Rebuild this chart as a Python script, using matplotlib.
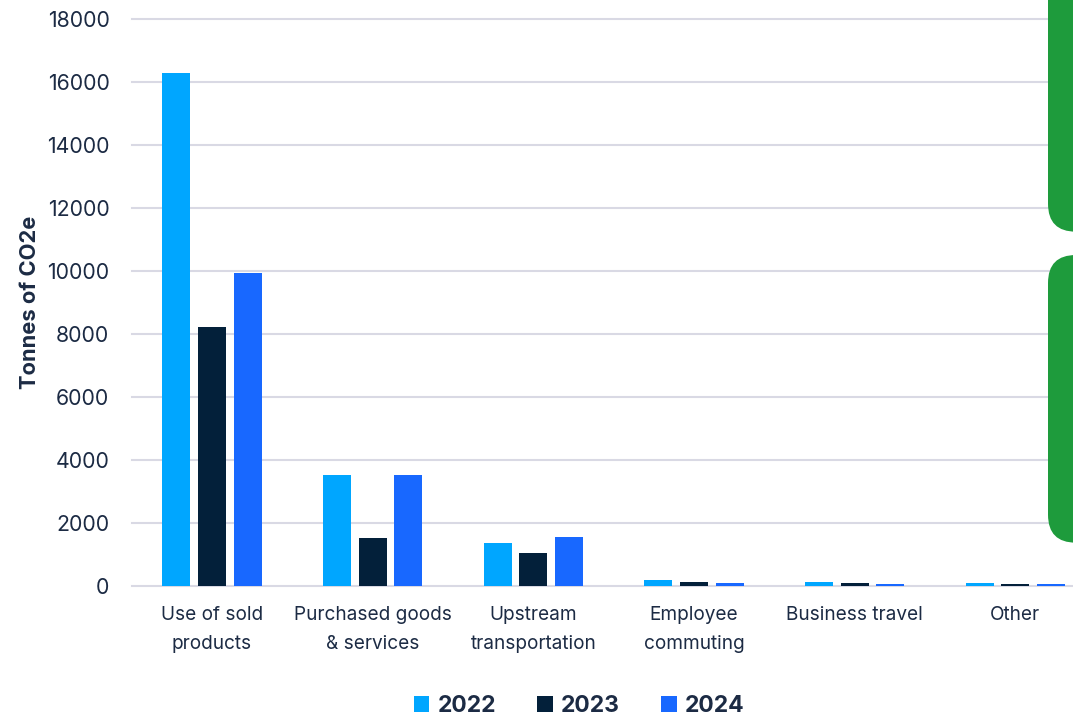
import numpy as np
import matplotlib
matplotlib.use("Agg")
import matplotlib.pyplot as plt
from matplotlib.patches import Patch, FancyBboxPatch
from matplotlib.transforms import IdentityTransform

plt.rcParams['font.family'] = ['Inter', 'DejaVu Sans']

# scope 3 emission categories
categories = ['Use of sold\nproducts', 'Purchased goods\n& services', 'Upstream\ntransportation',
              'Employee\ncommuting', 'Business travel', 'Other']
years = ['2022', '2023', '2024']
em_2022 = [16300, 3520, 1345, 180, 115, 85]
em_2023 = [8210, 1500, 1045, 105, 75, 50]
em_2024 = [9940, 3530, 1555, 75, 50, 35]
yticks = [0, 2000, 4000, 6000, 8000, 10000, 12000, 14000, 16000, 18000]

colors = ['#00a6ff', '#03203a', '#1868ff']
text_col = '#1c2b44'
grid_col = '#d9d9e4'
green = '#1e9b3c'

W, H = 1073, 718
fig = plt.figure(figsize=(W / 100, H / 100), dpi=100)
ax = fig.add_axes([131.7 / W, 132.4 / H, (1095.6 - 131.7) / W, (585.6 - 19.5) / H])

x = np.arange(len(categories))
pitch = 0.222
bw = 0.174
for i, vals in enumerate([em_2022, em_2023, em_2024]):
    ax.bar(x + (i - 1) * pitch, vals, width=bw, color=colors[i], zorder=3)

ax.set_xlim(-0.5, len(categories) - 0.5)
ax.set_ylim(0, 18000)
ax.set_yticks(yticks)
ax.set_yticklabels([str(t) for t in yticks], fontsize=15.3)
ax.set_xticks(x)
ax.set_xticklabels(categories, linespacing=1.75, fontsize=13.7)
ax.tick_params(axis='both', length=0, colors=text_col)
ax.tick_params(axis='y', pad=16)
ax.tick_params(axis='x', pad=15)
ax.grid(axis='y', color=grid_col, linewidth=1.5, zorder=0)
ax.grid(axis='x', visible=False)
for s in ax.spines.values():
    s.set_visible(False)
for gl in ax.get_ygridlines():
    gl.set_clip_on(False)

ax.set_ylabel('Tonnes of CO2e', fontsize=15.8, fontweight='bold', color=text_col)
ax.yaxis.set_label_coords(-0.0955, 0.5)

# legend along the bottom
handles = [Patch(facecolor=c, edgecolor='none') for c in colors]
leg = fig.legend(handles, years, loc='center', bbox_to_anchor=(579 / W, 12 / H), ncol=3,
                 frameon=False, prop={'size': 16.5, 'weight': 'bold'},
                 handlelength=0.68, handleheight=0.68, handletextpad=0.35, columnspacing=1.8)
for t in leg.get_texts():
    t.set_color(text_col)

# green side panels
for y0, y1 in [(486.3, 780), (175.3, 463)]:
    box = FancyBboxPatch((1048, y0), 100, y1 - y0, boxstyle='round,pad=0,rounding_size=28',
                         facecolor=green, edgecolor='none', transform=IdentityTransform(), zorder=5)
    fig.add_artist(box)

fig.savefig('out.png', dpi=100)
